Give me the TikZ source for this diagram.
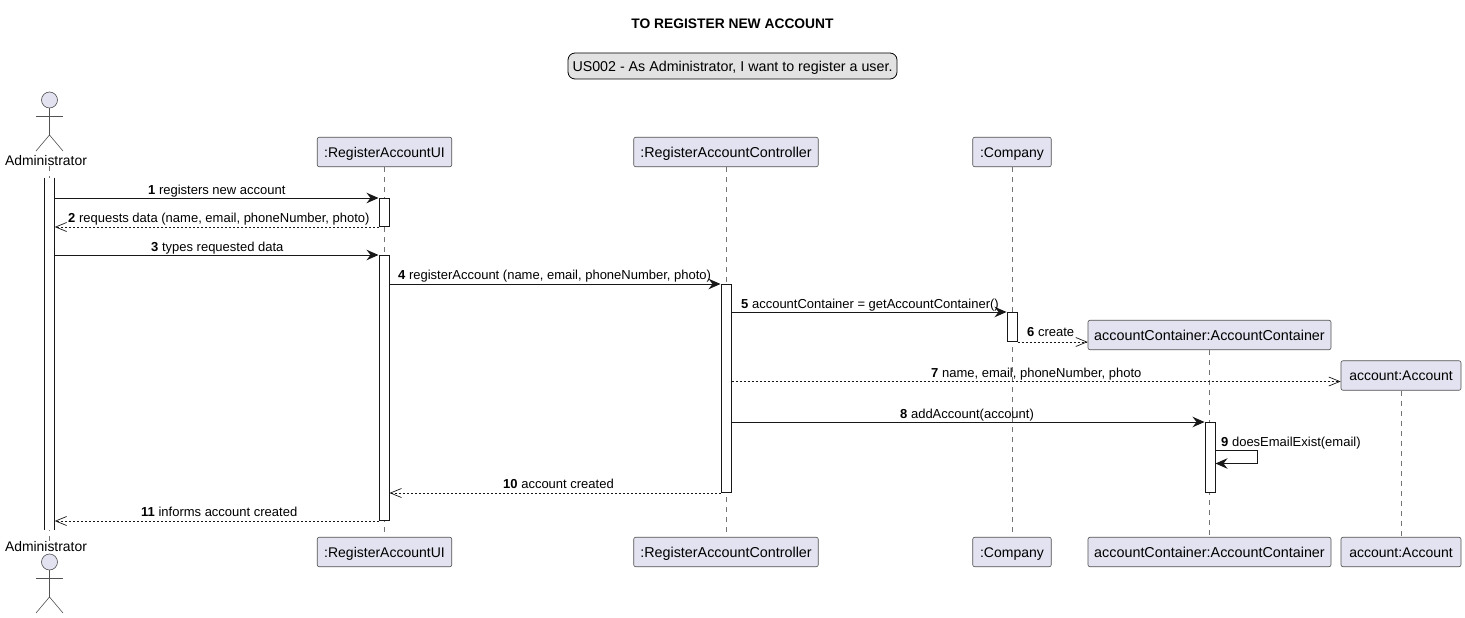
\documentclass[tikz,border=0pt]{standalone}
\usepackage{fontspec}
\setmainfont{Liberation Sans}
\usetikzlibrary{arrows.meta}
\definecolor{part}{HTML}{E2E2F0}
\definecolor{ink}{HTML}{181818}
\definecolor{notefill}{HTML}{E2E2E2}
\tikzset{
  x=1pt,y=-1pt,
  box/.style={draw=ink!75,line width=0.6pt,fill=part,rounded corners=2pt,inner sep=0pt,font=\fontsize{14}{16}\selectfont,text height=13pt,text depth=3pt,minimum height=29.5pt},
  wide/.style={font=\fontsize{14.35}{16}\selectfont},
  lifeline/.style={draw=ink!60,line width=0.6pt,dash pattern=on 5pt off 5pt},
  bar/.style={draw=ink,line width=1pt,fill=white,inner sep=0pt,minimum width=10pt},
  barfill/.style={fill=white,inner sep=0pt,minimum width=10pt},
  sync/.style={draw=ink,line width=1pt,-{Stealth[length=12pt,width=10.5pt,inset=4pt]}},
  reply/.style={draw=ink,line width=0.7pt,dash pattern=on 2pt off 2pt,-{Straight Barb[length=11pt,width=9pt,line width=0.7pt]}},
  msg/.style={anchor=base west,inner sep=0pt,font=\fontsize{13}{15}\selectfont},
  actorname/.style={inner sep=0pt,font=\fontsize{13.9}{16}\selectfont},
  actorline/.style={draw=ink!75,line width=0.6pt},
}
\newcommand{\num}[1]{{\bfseries #1}}
\begin{document}
\begin{tikzpicture}
\useasboundingbox (0,0) rectangle (1465,618);
\fill[white] (0,0) rectangle (1465,618);

% title and header note
\node[inner sep=0pt,anchor=base,font=\fontsize{13.8}{15}\selectfont\bfseries] (title) at (732.5,28.5) {TO REGISTER NEW ACCOUNT};
\node[draw=black,line width=0.8pt,fill=notefill,rounded corners=7pt,inner sep=0pt,minimum width=329pt,minimum height=26pt,text height=13pt,text depth=3pt,font=\fontsize{14.25}{16}\selectfont] (note) at (732.5,66) {US002 - As Administrator, I want to register a user.};

% participants
\node[actorname,anchor=base] (adminT) at (46,165) {Administrator};
\node[actorname,anchor=base] (adminB) at (46,551) {Administrator};
\node[box,minimum width=134.5pt] (uiT) at (384.5,152) {:RegisterAccountUI};
\node[box,wide,minimum width=184.5pt] (ctrlT) at (726,152) {:RegisterAccountController};
\node[box,minimum width=78.5pt] (compT) at (1012,152) {:Company};
\node[box,wide,minimum width=243pt] (contT) at (1209.5,335) {accountContainer:AccountContainer};
\node[box,minimum width=120pt] (accT) at (1401,375.5) {account:Account};
\node[box,minimum width=134.5pt] (uiB) at (384.5,552) {:RegisterAccountUI};
\node[box,wide,minimum width=184.5pt] (ctrlB) at (726,552) {:RegisterAccountController};
\node[box,minimum width=78.5pt] (compB) at (1012,552) {:Company};
\node[box,wide,minimum width=243pt] (contB) at (1209.5,552) {accountContainer:AccountContainer};
\node[box,minimum width=120pt] (accB) at (1401,552) {account:Account};

% lifelines
\coordinate (adminTop) at (49.5,166);
\coordinate (adminEnd) at (49.5,541);
\draw[lifeline] (adminTop) -- (adminEnd);
\draw[lifeline] (uiT) -- (uiB);
\draw[lifeline] (ctrlT) -- (ctrlB);
\draw[lifeline] (compT) -- (compB);
\draw[lifeline] (contT) -- (contB);
\draw[lifeline] (accT) -- (accB);

% actors
\node[circle,draw=ink!75,line width=0.6pt,fill=part,minimum size=16pt,inner sep=0pt] (headT) at (49.5,100) {};
\coordinate (hipT) at (49.5,135);
\coordinate (armLT) at (36,116);
\coordinate (armRT) at (63,116);
\coordinate (footLT) at (36,151);
\coordinate (footRT) at (63,151);
\draw[actorline] (headT) -- (hipT);
\draw[actorline] (armLT) -- (armRT);
\draw[actorline] (footLT) -- (hipT) -- (footRT);
\node[circle,draw=ink!75,line width=0.6pt,fill=part,minimum size=16pt,inner sep=0pt] (headB) at (49.5,562) {};
\coordinate (hipB) at (49.5,597);
\coordinate (armLB) at (36,578);
\coordinate (armRB) at (63,578);
\coordinate (footLB) at (36,613);
\coordinate (footRB) at (63,613);
\draw[actorline] (headB) -- (hipB);
\draw[actorline] (armLB) -- (armRB);
\draw[actorline] (footLB) -- (hipB) -- (footRB);

% activations
\node[barfill,minimum height=352pt] (barA) at (49.5,354) {};
\draw[draw=ink,line width=1pt] (barA.north west) -- (barA.south west);
\draw[draw=ink,line width=1pt] (barA.north east) -- (barA.south east);
\node[bar,minimum height=28pt] (ui1) at (384,212.5) {};
\node[bar,minimum height=265pt] (ui2) at (384,388) {};
\node[bar,minimum height=208pt] (ct1) at (726,388.5) {};
\node[bar,minimum height=29pt] (co1) at (1012,327) {};
\node[bar,minimum height=70pt] (cn1) at (1210,457.5) {};

% messages
\coordinate (selfA) at (1257,450.5);
\coordinate (selfB) at (1257,463.5);
\coordinate (m7y) at (0,381.5);
\draw[sync] (barA.east |- ui1.north) -- (ui1.north west);
\draw[reply] (ui1.south west) -- (barA.east |- ui1.south);
\draw[sync] (barA.east |- ui2.north) -- (ui2.north west);
\draw[sync] (ui2.east |- ct1.north) -- (ct1.north west);
\draw[sync] (ct1.east |- co1.north) -- (co1.north west);
\draw[reply] (co1.south east) -- (contT.west |- co1.south);
\draw[reply] (ct1.east |- m7y) -- (accT.west |- m7y);
\draw[sync] (ct1.east |- cn1.north) -- (cn1.north west);
\draw[sync] (cn1.east |- selfA) -- (selfA) -- (selfB) -- (cn1.east |- selfB);
\draw[reply] (ct1.south west) -- (ui2.east |- ct1.south);
\draw[reply] (ui2.south west) -- (barA.east |- ui2.south);

% message labels
\node[msg] (m1) at (148,194) {\num{1} registers new account};
\node[msg] (m2) at (68,222) {\num{2} requests data (name, email, phoneNumber, photo)};
\node[msg] (m3) at (151,251) {\num{3} types requested data};
\node[msg] (m4) at (398,279) {\num{4} registerAccount (name, email, phoneNumber, photo)};
\node[msg] (m5) at (741,308.5) {\num{5} accountContainer = getAccountContainer()};
\node[msg] (m6) at (1027,336) {\num{6} create};
\node[msg] (m7) at (931,377) {\num{7} name, email, phoneNumber, photo};
\node[msg] (m8) at (900,418) {\num{8} addAccount(account)};
\node[msg] (m9) at (1221,446) {\num{9} doesEmailExist(email)};
\node[msg] (m10) at (503,488) {\num{10} account created};
\node[msg] (m11) at (141,516) {\num{11} informs account created};
\end{tikzpicture}
\end{document}
